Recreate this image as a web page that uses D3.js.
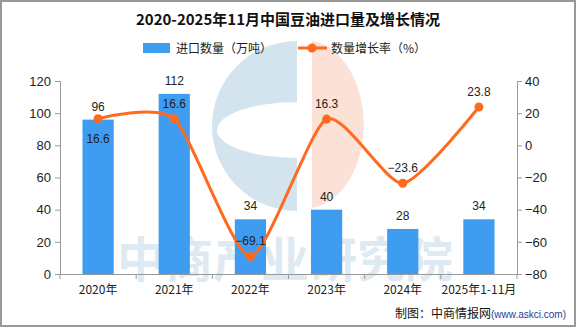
<!DOCTYPE html>
<html>
<head>
<meta charset="utf-8">
<script src="https://cdn.jsdelivr.net/npm/d3@7"></script>
<style>
  body { margin: 0; background: #fff; }
  svg { display: block; }
</style>
</head>
<body>
<svg width="576" height="327"></svg>
<script>
// data
var years = ["2020年", "2021年", "2022年", "2023年", "2024年", "2025年1-11月"]
var amount = [96, 112, 34, 40, 28, 34]
var growth = [16.6, 16.6, -69.1, 16.3, -23.6, 23.8]
var leftTicks = [0, 20, 40, 60, 80, 100, 120]
var rightTicks = [-80, -60, -40, -20, 0, 20, 40]

var width = 576
var height = 327
var plotL = 60, plotR = 517, plotT = 81, plotB = 274
var barColor = "#3f9df1"
var lineColor = "#ff6a1f"
var numFont = "'Liberation Sans', Arial, sans-serif"
var cjkFont = "'Noto Sans CJK SC', sans-serif"

var svg = d3.select("svg")

// frame
svg.append("rect")
    .attr("x", 1).attr("y", 1)
    .attr("width", width - 2).attr("height", height - 2)
    .attr("fill", "#fff")
    .attr("stroke", "#999")
    .attr("stroke-width", 2)

// watermark logo + text
var wm = svg.append("g")
wm.append("path")
    .attr("d", "M297,41 A85,85 0 0,0 297,211 Z M297,102 L297,158 A80,28 0 0,1 297,102 Z")
    .attr("fill", "#d3e4ee")
    .attr("fill-rule", "evenodd")
wm.append("path")
    .attr("d", "M312,41 A58,84 0 0,1 312,208 Z")
    .attr("fill", "#fbe1d6")
wm.append("text")
    .attr("x", 285).attr("y", 277)
    .attr("text-anchor", "middle")
    .attr("font-family", cjkFont)
    .attr("font-weight", "bold")
    .attr("font-size", 48)
    .attr("fill", "#d3e4ee")
    .attr("opacity", 0.75)
    .text("中商产业研究院")

var xScale = d3.scaleBand().domain(years).range([plotL, plotR])
var yLeft = d3.scaleLinear().domain([0, 120]).range([plotB, plotT])
var yRight = d3.scaleLinear().domain([-80, 40]).range([plotB, plotT])

function fmt(d) { return d < 0 ? "−" + Math.abs(d) : "" + d }

// axes
var axL = svg.append("g")
    .attr("transform", "translate(" + plotL + ",0)")
    .call(d3.axisLeft(yLeft).tickValues(leftTicks).tickSize(5).tickPadding(4))
var axR = svg.append("g")
    .attr("transform", "translate(" + plotR + ",0)")
    .call(d3.axisRight(yRight).tickValues(rightTicks).tickSize(5).tickPadding(3).tickFormat(fmt))
var axB = svg.append("g")
    .attr("transform", "translate(0," + plotB + ")")
    .call(d3.axisBottom(xScale).tickSize(0).tickPadding(11))

;[axL, axR, axB].forEach(function(ax) {
    ax.select(".domain").attr("stroke", "#999")
    ax.selectAll(".tick line").attr("stroke", "#999")
    ax.selectAll("text").attr("fill", "#222").attr("font-family", numFont).attr("font-size", 13)
})
axB.selectAll("text").attr("font-size", 12).attr("font-family", cjkFont)

// category separators on the x axis
var seps = years.map(function(d) { return xScale(d) }).concat([plotR])
svg.append("g").selectAll("line")
    .data(seps)
    .enter().append("line")
    .attr("x1", function(d) { return d }).attr("x2", function(d) { return d })
    .attr("y1", plotB).attr("y2", plotB + 5)
    .attr("stroke", "#999")

// bars
var bw = xScale.bandwidth() * 0.41
var cx = function(d, i) { return xScale(years[i]) + xScale.bandwidth() / 2 }
svg.append("g").selectAll("rect")
    .data(amount)
    .enter().append("rect")
    .attr("x", function(d, i) { return cx(d, i) - bw / 2 })
    .attr("y", function(d) { return yLeft(d) })
    .attr("width", bw)
    .attr("height", function(d) { return plotB - yLeft(d) })
    .attr("fill", barColor)

svg.append("g").selectAll("text")
    .data(amount)
    .enter().append("text")
    .attr("x", cx)
    .attr("y", function(d) { return yLeft(d) - 9 })
    .attr("text-anchor", "middle")
    .attr("font-family", numFont)
    .attr("font-size", 12)
    .attr("fill", "#222")
    .text(function(d) { return d })

// growth line
var line = d3.line()
    .x(cx)
    .y(function(d) { return yRight(d) })
    .curve(d3.curveCardinal.tension(0.35))
svg.append("path")
    .datum(growth)
    .attr("d", line)
    .attr("fill", "none")
    .attr("stroke", lineColor)
    .attr("stroke-width", 3)
svg.append("g").selectAll("circle")
    .data(growth)
    .enter().append("circle")
    .attr("cx", cx)
    .attr("cy", function(d) { return yRight(d) })
    .attr("r", 4.5)
    .attr("fill", lineColor)

// first label sits under its point, the rest above
var below = [true, false, false, false, false, false]
svg.append("g").selectAll("text")
    .data(growth)
    .enter().append("text")
    .attr("x", cx)
    .attr("y", function(d, i) { return yRight(d) + (below[i] ? 24 : -11) })
    .attr("text-anchor", "middle")
    .attr("font-family", numFont)
    .attr("font-size", 12)
    .attr("fill", "#222")
    .text(fmt)

// title
svg.append("text")
    .attr("x", 288).attr("y", 25)
    .attr("text-anchor", "middle")
    .attr("font-family", cjkFont)
    .attr("font-weight", "bold")
    .attr("font-size", 15)
    .attr("fill", "#111")
    .text("2020-2025年11月中国豆油进口量及增长情况")

// legend
var lg = svg.append("g").attr("font-family", cjkFont).attr("font-size", 12).attr("fill", "#222")
lg.append("rect").attr("x", 143).attr("y", 43).attr("width", 27).attr("height", 10).attr("fill", barColor)
lg.append("text").attr("x", 176).attr("y", 52.5).text("进口数量（万吨）")
lg.append("line").attr("x1", 298).attr("x2", 327).attr("y1", 48).attr("y2", 48)
    .attr("stroke", lineColor).attr("stroke-width", 3)
lg.append("circle").attr("cx", 312).attr("cy", 48).attr("r", 4.5).attr("fill", lineColor)
lg.append("text").attr("x", 331).attr("y", 52.5).text("数量增长率（%）")

// footer
var ft = svg.append("text")
    .attr("x", 566).attr("y", 318)
    .attr("text-anchor", "end")
    .attr("font-family", cjkFont)
    .attr("font-size", 12)
    .attr("fill", "#111")
ft.append("tspan").text("制图：中商情报网")
ft.append("tspan").attr("font-size", 10).attr("fill", "#1d3f8f").attr("font-family", numFont).text("(www.askci.com)")
</script>
</body>
</html>
